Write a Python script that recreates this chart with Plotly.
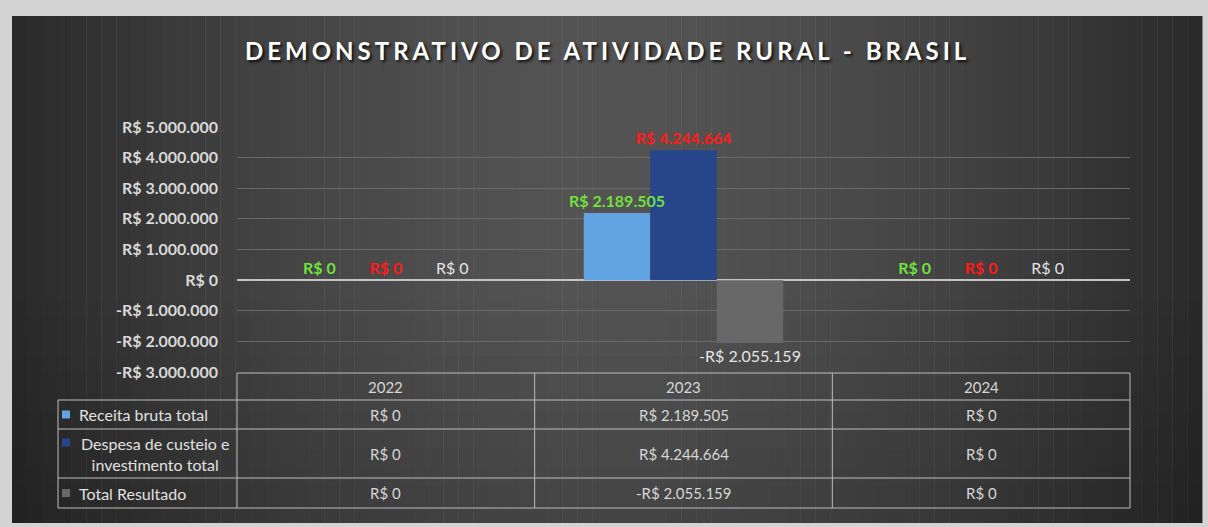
import plotly.graph_objects as go

# ---------------- data ----------------
years = ["2022", "2023", "2024"]
receita = [0, 2189505, 0]
despesa = [0, 4244664, 0]
resultado = [0, -2055159, 0]
series_names = ["Receita bruta total", "Despesa de custeio e<br>investimento total", "Total Resultado"]
y_tick_vals = [-3000000, -2000000, -1000000, 0, 1000000, 2000000, 3000000, 4000000, 5000000]
title_text = "DEMONSTRATIVO DE ATIVIDADE RURAL - BRASIL"

# ---------------- style ----------------
bar_colors = ["#62a3e2", "#27468a", "#686868"]
label_colors = ["#72e03f", "#ff1a1a", "#e4e4e4"]
label_weights = ["bold", "bold", "normal"]
FONT = "Lato"

W, H = 1208, 527
L, R, T, B = 237, 1130, 127, 372


def px(x):
    return (x - L) / (R - L)


def py(y):
    return (B - y) / (B - T)


def brl(v, sep=" "):
    s = f"{abs(int(v)):,}".replace(",", ".")
    return ("-" if v < 0 else "") + "R$" + sep + s


series = [receita, despesa, resultado]

fig = go.Figure()
# bars
for i, (vals, name, col) in enumerate(zip(series, series_names, bar_colors)):
    fig.add_trace(go.Bar(
        x=years, y=vals, name=name, offsetgroup=str(i),
        marker=dict(color=col, line=dict(width=0)),
        showlegend=False, hoverinfo="skip",
    ))
# data labels drawn on top (transparent bars in same offset groups)
for i, (vals, name, lcol, lw) in enumerate(zip(series, series_names, label_colors, label_weights)):
    fig.add_trace(go.Bar(
        x=years, y=vals, name=name, offsetgroup=str(i),
        marker=dict(color="rgba(0,0,0,0)", line=dict(width=0)),
        text=[brl(v) for v in vals], textposition="outside",
        constraintext="none",
        textfont=dict(color=lcol, size=16, family=FONT, weight=lw),
        cliponaxis=False, showlegend=False,
    ))

shapes = []
# dark panel with horizontal gradient strips
x0p, x1p, y0p, y1p = 12, 1202, 16, 523
N = 80
for i in range(N):
    a = x0p + (x1p - x0p) * i / N
    b = x0p + (x1p - x0p) * (i + 1) / N
    t = (i + 0.5) / N
    d = abs(2 * t - 1.0)
    lum = int(0x54 - (0x54 - 0x2a) * d ** 1.6)
    shapes.append(dict(type="rect", xref="paper", yref="paper", layer="below",
                       x0=px(a), x1=px(b) + 0.0005, y0=py(y1p), y1=py(y0p),
                       fillcolor=f"rgb({lum},{lum},{lum})", line=dict(width=0)))
# bottom darkening overlay
M = 12
for j in range(M):
    ya = 300 + (y1p - 300) * j / M
    yb = 300 + (y1p - 300) * (j + 1) / M
    op = 0.18 * (j + 0.5) / M
    shapes.append(dict(type="rect", xref="paper", yref="paper", layer="below",
                       x0=px(x0p), x1=px(x1p), y0=py(yb), y1=py(ya),
                       fillcolor=f"rgba(0,0,0,{op:.3f})", line=dict(width=0)))

# data table
line = dict(color="#bdbdbd", width=1)
hdr_top, r1, r2, r3, r4 = 373, 400, 429, 478, 508
leg_left = 58
shapes.append(dict(type="line", xref="paper", yref="paper", x0=px(L), x1=px(R),
                   y0=py(hdr_top), y1=py(hdr_top), line=line))
for yy in (r1, r2, r3, r4):
    shapes.append(dict(type="line", xref="paper", yref="paper", x0=px(leg_left), x1=px(R),
                       y0=py(yy), y1=py(yy), line=line))
shapes.append(dict(type="line", xref="paper", yref="paper", x0=px(leg_left), x1=px(leg_left),
                   y0=py(r1), y1=py(r4), line=line))
shapes.append(dict(type="line", xref="paper", yref="paper", x0=0, x1=0,
                   y0=py(hdr_top), y1=py(r4), line=line))
shapes.append(dict(type="line", xref="paper", yref="paper", x0=1, x1=1,
                   y0=py(hdr_top), y1=py(r4), line=line))
for k in range(1, len(years)):
    shapes.append(dict(type="line", xref="x", yref="paper", x0=k - 0.5, x1=k - 0.5,
                       y0=py(hdr_top), y1=py(r4), line=line))

annotations = []
tfont = dict(color="#d6d6d6", size=15, family=FONT)
for k, yr in enumerate(years):
    annotations.append(dict(xref="x", yref="paper", x=k, y=py((hdr_top + r1) / 2), text=yr,
                            showarrow=False, font=tfont, xanchor="center", yanchor="middle"))
row_mid = [(r1 + r2) / 2, (r2 + r3) / 2, (r3 + r4) / 2]
for vals, ym in zip(series, row_mid):
    for k, v in enumerate(vals):
        annotations.append(dict(xref="x", yref="paper", x=k, y=py(ym), text=brl(v),
                                showarrow=False, font=tfont, xanchor="center", yanchor="middle"))
lfont = dict(color="#e0e0e0", size=16, family=FONT)
for name, col, ym in zip(series_names, bar_colors, row_mid):
    two = "<br>" in name
    sq_y = ym - 11 if two else ym
    shapes.append(dict(type="rect", xref="paper", yref="paper",
                       x0=px(62), x1=px(70), y0=py(sq_y + 4), y1=py(sq_y - 4),
                       fillcolor=col, line=dict(width=0)))
    if two:
        annotations.append(dict(xref="paper", yref="paper", x=px(155), y=py(ym), text=name,
                                showarrow=False, align="center", xanchor="center",
                                yanchor="middle", font=lfont))
    else:
        annotations.append(dict(xref="paper", yref="paper", x=px(77), y=py(ym), text=name,
                                showarrow=False, align="left", xanchor="left",
                                yanchor="middle", font=lfont))

# title
annotations.append(dict(xref="paper", yref="paper", x=px(608), y=py(50), text=title_text,
                        showarrow=False, xanchor="center", yanchor="middle",
                        font=dict(color="#ffffff", size=24, family=FONT, weight="bold",
                                  shadow="2px 2px 3px rgba(0,0,0,0.8)")))

fig.update_layout(
    width=W, height=H,
    margin=dict(l=L, r=W - R, t=T, b=H - B, pad=0),
    paper_bgcolor="#d3d3d3",
    plot_bgcolor="rgba(0,0,0,0)",
    barmode="group", bargap=0.33, bargroupgap=0,
    shapes=shapes, annotations=annotations,
    showlegend=False,
    xaxis=dict(showticklabels=False, showgrid=False, zeroline=False, showline=False,
               range=[-0.5, 2.5], fixedrange=True),
    yaxis=dict(range=[-3000000, 5000000], tickvals=y_tick_vals,
               ticktext=[brl(v) for v in y_tick_vals],
               tickfont=dict(color="#d9d9d9", size=16, family=FONT, weight="bold"),
               showgrid=True, gridcolor="#6a6a6a", gridwidth=1,
               zeroline=True, zerolinecolor="#c4c4c4", zerolinewidth=2,
               automargin=False, ticks="", ticklabelstandoff=18, showline=False),
)

post = """
document.body.style.margin='0';
document.body.style.background='#d3d3d3';
document.querySelectorAll('.annotation-text').forEach(function(el){
  if (el.textContent.indexOf('DEMONSTRATIVO') === 0) { el.style.letterSpacing='4px'; }
});
"""

fig.write_html("out.html", post_script=post, config={"displayModeBar": False})
